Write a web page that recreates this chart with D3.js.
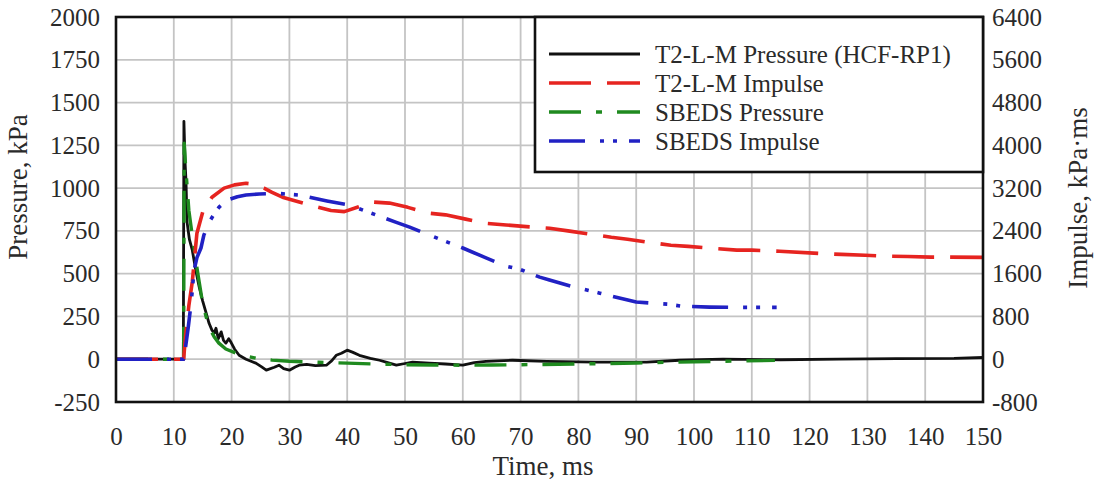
<!DOCTYPE html>
<html>
<head>
<meta charset="utf-8">
<script src="https://cdn.jsdelivr.net/npm/d3@7"></script>
<style>
  html, body { margin: 0; padding: 0; background: #fff; }
  svg text { font-family: "Liberation Serif", "DejaVu Serif", serif; fill: #2a2a2a; }
</style>
</head>
<body>
<svg id="chart" width="1094" height="480"></svg>
<script>
// ---- Data ----
const xTicks = [0,10,20,30,40,50,60,70,80,90,100,110,120,130,140,150];
const pressureTicks = [-250,0,250,500,750,1000,1250,1500,1750,2000];
const impulseTicks = [-800,0,800,1600,2400,3200,4000,4800,5600,6400];

// T2-L-M Pressure (HCF-RP1), kPa
const t2PressureTime = [0,11.65,11.75,11.95,12.1,12.3,12.7,13.2,13.8,14.4,15.0,15.6,16.1,16.6,17.0,17.3,17.7,18.2,18.6,19.0,19.5,19.9,20.5,21.3,22.5,24.2,25.2,26.0,27.4,28.2,29.0,30.0,31.0,31.7,33.0,34.5,36.4,37.3,38.1,39.0,40.0,41.0,42.1,44.0,45.6,47.0,48.5,50.0,51.3,54.2,57.0,60.0,62.0,64.0,68.6,74.5,83.0,91.8,97.5,105,115,125,135,145,150];
const t2PressureValue = [0,0,1390,1150,1050,800,700,637,520,421,340,269,210,170,152,181,120,160,110,94,120,99,60,23,0,-23,-45,-64,-47,-35,-55,-64,-45,-35,-30,-38,-35,-10,23,35,53,40,23,5,-6,-20,-35,-25,-17,-23,-28,-35,-20,-12,-6,-12,-17,-17,-6,0,-3,0,3,5,10];

// T2-L-M Impulse, kPa·ms
const t2ImpulseTime = [0,11.7,12.0,12.6,13.2,14.0,15.0,16.6,18.7,20.5,22.5,24.0,25.6,27.0,28.8,31.7,34.3,37.2,39.5,42.0,44.2,47.3,50.5,54.2,57.0,60.5,64.0,67.5,71.0,75.0,78.5,82.0,85.7,88.5,92.0,96.0,99.0,103.0,107.4,110.0,114.8,121.5,125.5,129.6,132.7,137.0,141.0,144.0,150];
const t2ImpulseValue = [0,0,400,1000,1450,2357,2750,3030,3200,3260,3290,3270,3200,3120,3030,2940,2860,2780,2760,2850,2940,2920,2840,2730,2700,2620,2540,2510,2480,2450,2395,2340,2280,2245,2190,2130,2110,2075,2040,2040,2020,1980,1960,1945,1930,1920,1910,1910,1905];

// SBEDS Pressure, kPa
const sbedsPressureTime = [0,11.7,11.8,12.0,12.6,13.2,13.8,14.4,14.9,15.5,16.1,17.0,17.8,19.0,20.8,22.5,24.2,27,30,35,40,45,50,55,60,65,70,80,90,100,108,114];
const sbedsPressureValue = [0,0,1263,1150,871,720,579,450,345,260,187,130,94,60,35,18,6,-5,-12,-18,-23,-28,-32,-34,-35,-34,-32,-28,-22,-15,-10,-7];

// SBEDS Impulse, kPa·ms
const sbedsImpulseTime = [0,11.7,12.0,12.5,13.0,13.5,14.0,14.7,15.2,16.1,17.0,17.8,18.7,19.6,21.0,22.5,24.8,28.2,31.7,34.3,36.5,40.4,44.2,48.5,50.8,56.0,60.0,62.9,67.5,69.8,73.3,75.0,79.3,83.7,90.0,95.4,98.0,102.7,107.4,114.3];
const sbedsImpulseValue = [0,0,200,600,1050,1660,1900,2080,2320,2560,2720,2840,2930,2990,3040,3070,3090,3100,3070,3010,2960,2880,2730,2560,2470,2245,2080,1945,1740,1685,1535,1480,1350,1235,1070,1030,990,975,970,970];

const legendLabels = ["T2-L-M Pressure (HCF-RP1)", "T2-L-M Impulse", "SBEDS Pressure", "SBEDS Impulse"];

// ---- Layout ----
const svg = d3.select("#chart");
const L = 116, R = 983, T = 17, B = 402;
const x = d3.scaleLinear().domain([0,150]).range([L,R]);
const yP = d3.scaleLinear().domain([-250,2000]).range([B,T]);
const yI = d3.scaleLinear().domain([-800,6400]).range([B,T]);
const fmt = d => String(d);

// grid
const grid = svg.append("g");
grid.selectAll("line.v").data(xTicks.slice(1,-1)).enter().append("line")
  .attr("x1", d=>x(d)).attr("x2", d=>x(d)).attr("y1", T).attr("y2", B)
  .attr("stroke", "#c4c4c4").attr("stroke-width", 1.8);
grid.selectAll("line.h").data(pressureTicks.slice(1,-1)).enter().append("line")
  .attr("y1", d=>yP(d)).attr("y2", d=>yP(d)).attr("x1", L).attr("x2", R)
  .attr("stroke", "#c4c4c4").attr("stroke-width", 1.8);

// axes (labels only, frame drawn separately)
const axB = svg.append("g").attr("transform", `translate(0,${B})`)
  .call(d3.axisBottom(x).tickValues(xTicks).tickSize(0).tickPadding(25).tickFormat(fmt));
const axL = svg.append("g").attr("transform", `translate(${L},0)`)
  .call(d3.axisLeft(yP).tickValues(pressureTicks).tickSize(0).tickPadding(16).tickFormat(fmt));
const axR = svg.append("g").attr("transform", `translate(${R},0)`)
  .call(d3.axisRight(yI).tickValues(impulseTicks).tickSize(0).tickPadding(9).tickFormat(fmt));
[axB, axL, axR].forEach(a => {
  a.select(".domain").remove();
  a.selectAll("text").attr("font-size", 25).attr("font-family", "Liberation Serif").attr("fill", "#2a2a2a");
});

// titles
svg.append("text").attr("x", 543).attr("y", 475).attr("text-anchor", "middle")
  .attr("font-size", 27).text("Time, ms");
svg.append("text").attr("transform", "translate(27,187) rotate(-90)").attr("text-anchor", "middle")
  .attr("font-size", 27).text("Pressure, kPa");
svg.append("text").attr("transform", "translate(1087,198) rotate(-90)").attr("text-anchor", "middle")
  .attr("font-size", 27).text("Impulse, kPa·ms");

// series
const series = [
  {t: t2PressureTime, v: t2PressureValue, y: yP, color: "#111111", dash: null, w: 2.8},
  {t: sbedsPressureTime, v: sbedsPressureValue, y: yP, color: "#1f8a1f", dash: "32,15,6,15", w: 3.4},
  {t: t2ImpulseTime, v: t2ImpulseValue, y: yI, color: "#e62420", dash: "42,16", w: 3.6},
  {t: sbedsImpulseTime, v: sbedsImpulseValue, y: yI, color: "#2121c4", dash: "36,15,4,9,4,12", w: 3.6}
];
svg.append("clipPath").attr("id", "plotclip").append("rect")
  .attr("x", L).attr("y", T).attr("width", R-L).attr("height", B-T);
const plot = svg.append("g").attr("clip-path", "url(#plotclip)");
series.forEach(s => {
  const pts = s.t.map((t,i) => [t, s.v[i]]);
  const line = d3.line().x(d=>x(d[0])).y(d=>s.y(d[1])).curve(d3.curveLinear);
  plot.append("path").datum(pts).attr("d", line)
    .attr("fill", "none").attr("stroke", s.color).attr("stroke-width", s.w)
    .attr("stroke-linejoin", "round")
    .attr("stroke-dasharray", s.dash);
});

// frame
svg.append("rect").attr("x", L).attr("y", T).attr("width", R-L).attr("height", B-T)
  .attr("fill", "none").attr("stroke", "#111").attr("stroke-width", 2.6);

// legend
const lg = svg.append("g");
lg.append("rect").attr("x", 535).attr("y", T).attr("width", R-535).attr("height", 155)
  .attr("fill", "#fff").attr("stroke", "#111").attr("stroke-width", 2.6);
const legY = [54, 83, 112, 141];
const legSeries = [series[0], series[2], series[1], series[3]];
legendLabels.forEach((lab, i) => {
  const s = legSeries[i];
  lg.append("line").attr("x1", 549).attr("x2", 640).attr("y1", legY[i]).attr("y2", legY[i])
    .attr("stroke", s.color).attr("stroke-width", s.w).attr("stroke-dasharray", s.dash);
  lg.append("text").attr("x", 655).attr("y", legY[i]).attr("dy", "0.35em")
    .attr("font-size", 25).text(lab);
});
</script>
</body>
</html>
